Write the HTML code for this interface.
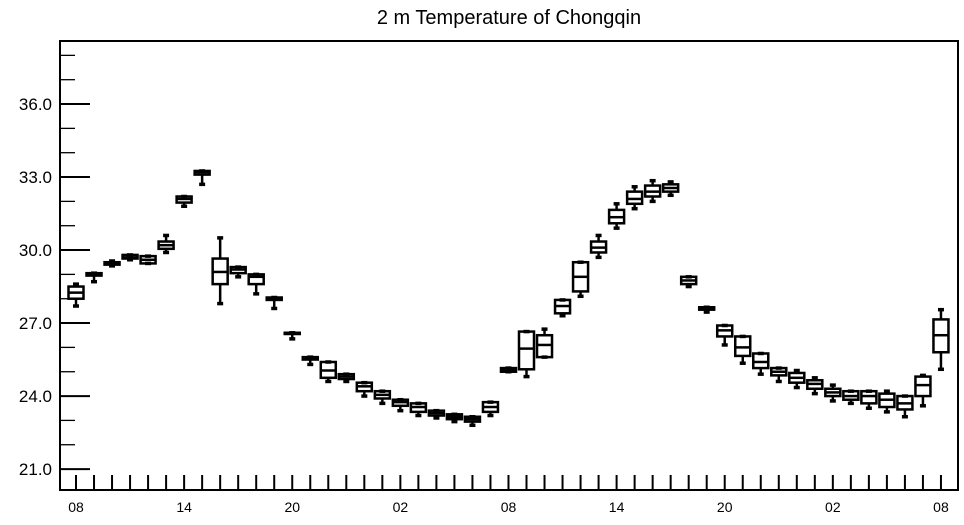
<!DOCTYPE html>
<html><head><meta charset="utf-8"><style>
body{margin:0;background:#fff;font-family:"Liberation Sans",sans-serif}
svg text{font-family:"Liberation Sans",sans-serif}
</style></head><body>
<svg id="chart" width="964" height="520" viewBox="0 0 964 520" xmlns="http://www.w3.org/2000/svg">
<text x="509" y="24" text-anchor="middle" font-size="20">2 m Temperature of Chongqin</text>
<g id="axes"></g>
<g id="boxes"></g>
<rect x="60" y="41" width="898" height="449" fill="none" stroke="#000" stroke-width="2"/>
</svg>
<script>
const hourLabels = ["08","14","20","02","08","14","20","02","08"];
const yTicks = [21,24,27,30,33,36];
const whiskLow = [27.7,28.7,29.35,29.6,29.45,29.9,31.8,32.7,27.8,28.9,28.2,27.6,26.35,25.3,24.6,24.6,24.0,23.7,23.4,23.2,23.1,22.95,22.8,23.2,25.0,24.8,25.6,27.3,28.1,29.7,30.9,31.7,32.0,32.25,28.5,27.45,26.1,25.35,24.9,24.6,24.35,24.1,23.8,23.7,23.5,23.35,23.15,23.6,25.1];
const q1 = [28.0,28.95,29.4,29.65,29.45,30.05,31.95,33.1,28.6,29.05,28.6,27.95,26.55,25.5,24.75,24.7,24.2,23.9,23.6,23.35,23.2,23.05,22.95,23.35,25.0,25.1,25.6,27.4,28.3,29.9,31.1,31.9,32.2,32.4,28.6,27.55,26.45,25.65,25.15,24.85,24.55,24.3,24.0,23.85,23.7,23.55,23.45,24.0,25.8];
const median = [28.25,29.0,29.45,29.7,29.6,30.2,32.1,33.2,29.1,29.2,28.9,28.0,26.6,25.55,25.05,24.8,24.4,24.05,23.75,23.55,23.3,23.15,23.05,23.55,25.1,25.95,26.1,27.7,28.9,30.1,31.35,32.1,32.4,32.55,28.75,27.6,26.7,26.0,25.4,25.0,24.75,24.5,24.15,24.0,24.0,23.85,23.7,24.45,26.5];
const q3 = [28.5,29.05,29.5,29.8,29.75,30.35,32.2,33.25,29.65,29.3,29.0,28.05,26.6,25.6,25.4,24.9,24.55,24.2,23.85,23.7,23.4,23.25,23.15,23.75,25.15,26.65,26.5,27.95,29.5,30.35,31.65,32.4,32.65,32.7,28.9,27.65,26.9,26.45,25.75,25.15,24.95,24.65,24.3,24.2,24.2,24.1,24.0,24.8,27.15];
const whiskHigh = [28.6,29.05,29.55,29.8,29.75,30.6,32.2,33.25,30.5,29.3,29.0,28.05,26.6,25.6,25.4,24.9,24.55,24.2,23.85,23.7,23.4,23.25,23.15,23.75,25.15,26.65,26.75,27.95,29.5,30.6,31.9,32.6,32.85,32.8,28.9,27.65,26.9,26.45,25.75,25.15,25.05,24.75,24.45,24.2,24.2,24.2,24.0,24.85,27.55];

{
const NS="http://www.w3.org/2000/svg";
const yMin=20.14, yMax=38.59, yTop=41, yBot=490, xLeft=60;
function yScale(v){return yBot-(v-yMin)/(yMax-yMin)*(yBot-yTop);}
function xScale(i){return 76+i*18.02;}
function mk(tag,attrs,parent){const e=document.createElementNS(NS,tag);for(const k in attrs)e.setAttribute(k,attrs[k]);parent.appendChild(e);return e;}
const axes=document.getElementById('axes'), boxes=document.getElementById('boxes');
for(let v=21; v<=38; v+=1){
  const major=yTicks.includes(v);
  const t=mk('line',{x1:xLeft,x2:xLeft+(major?30:15),y1:yScale(v),y2:yScale(v),stroke:'#000','stroke-width':major?2:1.3},axes);
  
  
}
yTicks.forEach(v=>{
  const t=mk('text',{x:52,y:yScale(v)+6,'text-anchor':'end','font-size':17},axes);
  t.textContent=v.toFixed(1);
  
  
});
for(let i=0;i<whiskLow.length;i++){
  const t=mk('line',{x1:xScale(i),x2:xScale(i),y1:yBot,y2:yBot-15,stroke:'#000','stroke-width':2},axes);
  
  
}
hourLabels.forEach((l,k)=>{
  const t=mk('text',{x:xScale(k*6),y:512,'text-anchor':'middle','font-size':14},axes);
  t.textContent=l;
  
  
});
const hw=7.5;
for(let i=0;i<whiskLow.length;i++){
  const g=mk('g',{stroke:'#000','stroke-width':2.5,fill:'none'},boxes);
  
  
  const x=xScale(i);
  mk('line',{x1:x,x2:x,y1:yScale(whiskLow[i]),y2:yScale(q1[i])},g);
  mk('line',{x1:x,x2:x,y1:yScale(whiskHigh[i]),y2:yScale(q3[i])},g);
  mk('line',{x1:x-3,x2:x+3,y1:yScale(whiskLow[i]),y2:yScale(whiskLow[i]),'stroke-width':3.5},g);
  mk('line',{x1:x-3,x2:x+3,y1:yScale(whiskHigh[i]),y2:yScale(whiskHigh[i]),'stroke-width':3.5},g);
  mk('rect',{x:x-hw,y:yScale(q3[i]),width:hw*2,height:Math.max(0.5,yScale(q1[i])-yScale(q3[i]))},g);
  mk('line',{x1:x-hw,x2:x+hw,y1:yScale(median[i]),y2:yScale(median[i])},g);
}
}
</script>
</body></html>
